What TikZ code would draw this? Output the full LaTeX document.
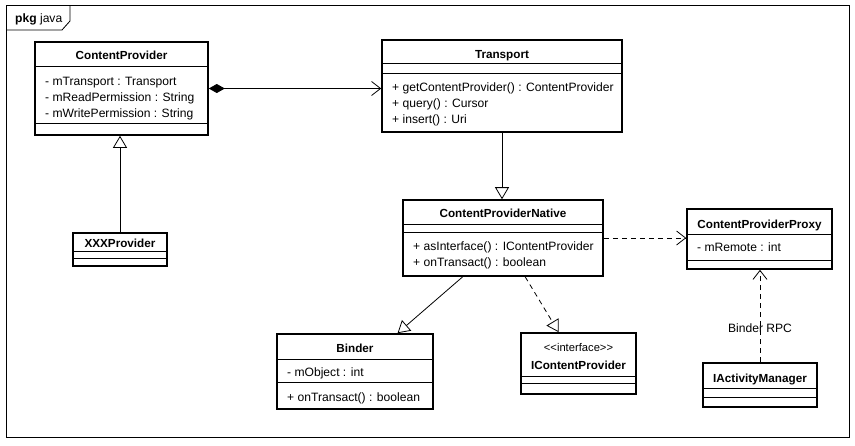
\documentclass[tikz,border=0pt]{standalone}
\usepackage{fontspec}
\setmainfont{Liberation Sans}
\usetikzlibrary{arrows.meta,calc}
\newcommand\umlbox[5]{%
  \node[cls, minimum width={(#4-#2)*1pt}, minimum height={(#5-#3)*1pt}] (#1) at ({(#2+#4)/2},{(#3+#5)/2}) {};}
\newcommand\umldiv[2]{\draw[divline] (#1.west |- 0,#2) -- (#1.east |- 0,#2);}
\begin{document}
\begin{tikzpicture}[x=1pt,y=-1pt,
  cls/.style={draw, line width=1.6pt, rectangle, inner sep=0pt, fill=white},
  divline/.style={line width=0.8pt},
  nm/.style={anchor=base, font=\fontsize{11.7}{14}\selectfont\bfseries, inner sep=0pt},
  mem/.style={anchor=base west, font=\fontsize{12.1}{14}\selectfont, inner sep=0pt},
  stereo/.style={anchor=base, font=\fontsize{11.2}{13}\selectfont, inner sep=0pt},
  conn/.style={line width=0.8pt},
  dsh/.style={conn, dash pattern=on 5pt off 4pt},
  openhead/.style={-{Straight Barb[length=9pt,width=14pt]}},
  tri/.style={-{Triangle[open,length=12pt,width=14pt,fill=white]}},
  frm/.style={line width=0.8pt}]
\fill[white] (0,0) rectangle (855,445);
\useasboundingbox (0,0) rectangle (855,445);
% package frame
\draw[frm] (6,5) rectangle (849,437);
\draw[frm] (6,30) -- (62,30) -- (70,21) -- (70,5);
\node[mem] (pkg) at (15,22) {\textbf{pkg} java};
% classes
\umlbox{cp}{35}{42}{208}{135}
\umldiv{cp}{66}\umldiv{cp}{123}
\node[nm] (cpn1) at (121.5,59) {ContentProvider};
\node[mem] (cpa1) at (45,85) {- mTransport : Transport};
\node[mem] (cpa2) at (45,101) {- mReadPermission : String};
\node[mem] (cpa3) at (45,117) {- mWritePermission : String};

\umlbox{tr}{382}{40}{622}{132}
\umldiv{tr}{63}\umldiv{tr}{73}
\node[nm] (trn) at (502,58) {Transport};
\node[mem] (trm1) at (392,91) {+ getContentProvider() : ContentProvider};
\node[mem] (trm2) at (392,107) {+ query() : Cursor};
\node[mem] (trm3) at (392,123) {+ insert() : Uri};

\umlbox{cpn}{403}{200}{603}{276}
\umldiv{cpn}{224}\umldiv{cpn}{232}
\node[nm] (cpnn) at (503,217) {ContentProviderNative};
\node[mem] (cpnm1) at (413,250) {+ asInterface() : IContentProvider};
\node[mem] (cpnm2) at (413,266) {+ onTransact() : boolean};

\umlbox{px}{687}{209}{832}{269}
\umldiv{px}{234}\umldiv{px}{260}
\node[nm] (pxn) at (759.5,228) {ContentProviderProxy};
\node[mem] (pxa1) at (697,251) {- mRemote : int};

\umlbox{bi}{277}{334}{433}{409}
\umldiv{bi}{359}\umldiv{bi}{382}
\node[nm] (bin) at (355,352) {Binder};
\node[mem] (bia1) at (287,376) {- mObject : int};
\node[mem] (bim1) at (287,401) {+ onTransact() : boolean};

\umlbox{icp}{521}{333}{636}{394}
\umldiv{icp}{376}\umldiv{icp}{383}
\node[stereo] (icps) at (578.5,351) {{<}{<}interface{>}{>}};
\node[nm] (icpn) at (578.5,369) {IContentProvider};

\umlbox{iam}{703}{363}{817}{407}
\umldiv{iam}{388}\umldiv{iam}{397}
\node[nm] (iamn) at (760,382) {IActivityManager};

\umlbox{xxx}{73}{233}{167}{266}
\umldiv{xxx}{251}\umldiv{xxx}{258}
\node[nm] (xxxn) at (120,247) {XXXProvider};

% connectors
\draw[conn, {Diamond[length=16pt,width=9pt]}-{Straight Barb[length=9pt,width=14pt]}] (cp.east) -- (cp.east -| tr.west);
\draw[conn, tri] (xxx.north) -- (xxx.north |- cp.south);
\draw[conn, tri] (tr.south) -- (tr.south |- cpn.north);
\draw[conn, tri] ($(cpn.south west)!0.3!(cpn.south east)$) -- ($(bi.north west)!0.77!(bi.north east)$);
\draw[dsh, tri] ($(cpn.south west)!0.61!(cpn.south east)$) -- ($(icp.north west)!0.33!(icp.north east)$);
\draw[dsh, openhead] (cpn.east) -- (cpn.east -| px.west);
\draw[dsh, openhead] (iam.north) -- (iam.north |- px.south);
\node[mem, anchor=base] (rpc) at (760,332) {Binder RPC};
\end{tikzpicture}
\end{document}
